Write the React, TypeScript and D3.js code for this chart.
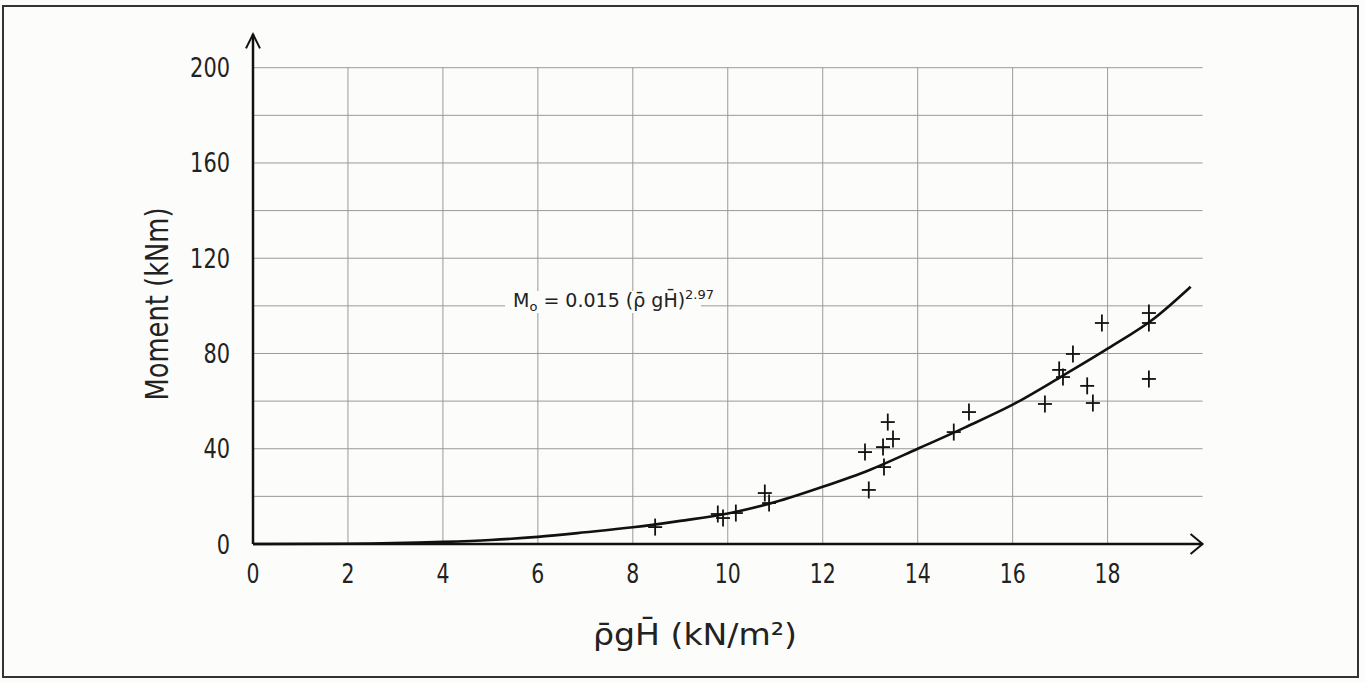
import React from 'react';
import * as d3 from 'd3';

// measured points: pressure term (kN/m2) vs moment (kNm)
const pressure = [8.47, 9.79, 9.9, 10.17, 10.78, 10.87, 12.89, 12.97, 13.27, 13.29, 13.37, 13.48,
  14.76, 15.08, 16.68, 16.98, 17.06, 17.27, 17.57, 17.69, 17.88, 18.87, 18.87, 18.87];
const moment = [7.1, 12.6, 10.9, 13.0, 21.4, 17.2, 38.6, 22.7, 40.7, 32.3, 51.2, 44.1,
  47.0, 55.4, 58.8, 73.1, 70.1, 79.8, 66.4, 59.2, 92.8, 97.0, 92.8, 69.3];

// fitted curve
const fitX = [0, 2, 4, 5, 6, 7, 8, 9, 10, 11, 12, 13, 14, 15, 16, 17, 18, 19, 19.75];
const fitY = [0, 0.1, 0.9, 1.7, 3, 4.9, 7, 9.7, 12.8, 17.6, 24, 31.2, 40, 49, 58.5, 70, 82, 95, 108];

const xTicks = [0, 2, 4, 6, 8, 10, 12, 14, 16, 18];
const yTicks = [0, 40, 80, 120, 160, 200];
const xGrid = [2, 4, 6, 8, 10, 12, 14, 16, 18];
const yGrid = [20, 40, 60, 80, 100, 120, 140, 160, 180, 200];

const W = 1366;
const H = 682;
const font = '"DejaVu Sans", sans-serif';

export default function App() {
  const x = d3.scaleLinear().domain([0, 18]).range([253, 1107.6]);
  const y = d3.scaleLinear().domain([0, 200]).range([544, 67.7]);
  const xEnd = x(20);
  const yEnd = y(214);

  const line = d3.line<number>()
    .x((_, i) => x(fitX[i]))
    .y((_, i) => y(fitY[i]))
    .curve(d3.curveMonotoneX);

  return (
    <svg width={W} height={H} style={{ position: 'absolute', left: 0, top: 0, background: '#fcfcfa' }}>
      <rect x={3} y={6} width={1355} height={671} fill="none" stroke="#333" strokeWidth={2} />

      {/* grid */}
      <g stroke="#9a9a9a" strokeWidth={1}>
        {xGrid.map(v => (
          <line key={'gx' + v} x1={x(v)} x2={x(v)} y1={y(0)} y2={y(200)} />
        ))}
        {yGrid.map(v => (
          <line key={'gy' + v} x1={x(0)} x2={xEnd} y1={y(v)} y2={y(v)} />
        ))}
      </g>

      {/* fit curve */}
      <path d={line(fitX) || ''} fill="none" stroke="#111" strokeWidth={2.6} />

      {/* equation label, sits on the 100 gridline */}
      <rect x={505} y={291} width={196} height={22} fill="#fcfcfa" />
      <text x={513} y={307} fontFamily={font} fontSize={19} fill="#222">
        M<tspan fontSize={13} dy={4}>o</tspan>
        <tspan dy={-4}>{'  =  0.015  (\u03C1\u0304 gH\u0304)'}</tspan>
        <tspan fontSize={13} dy={-8}>2.97</tspan>
      </text>

      {/* data points */}
      <g stroke="#111" strokeWidth={1.8}>
        {pressure.map((p, i) => (
          <g key={'p' + i} transform={`translate(${x(p)},${y(moment[i])})`}>
            <line x1={-7} x2={7} y1={0} y2={0} />
            <line x1={0} x2={0} y1={-8.5} y2={8.5} />
          </g>
        ))}
      </g>

      {/* axes with arrows */}
      <g stroke="#111" strokeWidth={2.5} fill="none">
        <line x1={x(0)} x2={xEnd} y1={y(0)} y2={y(0)} />
        <line x1={x(0)} x2={x(0)} y1={y(0)} y2={yEnd} />
        <path d={`M${xEnd - 12},${y(0) - 10}L${xEnd},${y(0)}L${xEnd - 12},${y(0) + 10}`} strokeWidth={2} />
        <path d={`M${x(0) - 7},${yEnd + 14}L${x(0)},${yEnd}L${x(0) + 7},${yEnd + 14}`} strokeWidth={2} />
      </g>

      {/* tick labels */}
      <g fontFamily={font} fontSize={26} fill="#222">
        {xTicks.map(v => (
          <text key={'tx' + v} x={x(v)} y={583} textAnchor="middle"
            textLength={String(v).length * 13} lengthAdjust="spacingAndGlyphs">{v}</text>
        ))}
        {yTicks.map(v => (
          <text key={'ty' + v} x={230} y={y(v) + 9.5} textAnchor="end"
            textLength={String(v).length * 13.3} lengthAdjust="spacingAndGlyphs">{v}</text>
        ))}
      </g>

      {/* axis titles */}
      <text x={0} y={0} transform="translate(168,304) rotate(-90)" textAnchor="middle"
        fontFamily={font} fontSize={32} fill="#222" textLength={193} lengthAdjust="spacingAndGlyphs">
        {'Moment  (kNm)'}
      </text>
      <text x={695} y={645} textAnchor="middle" fontFamily={font} fontSize={31} fill="#222"
        textLength={204} lengthAdjust="spacingAndGlyphs">
        {'\u03C1\u0304gH\u0304  (kN/m\u00B2)'}
      </text>
    </svg>
  );
}
